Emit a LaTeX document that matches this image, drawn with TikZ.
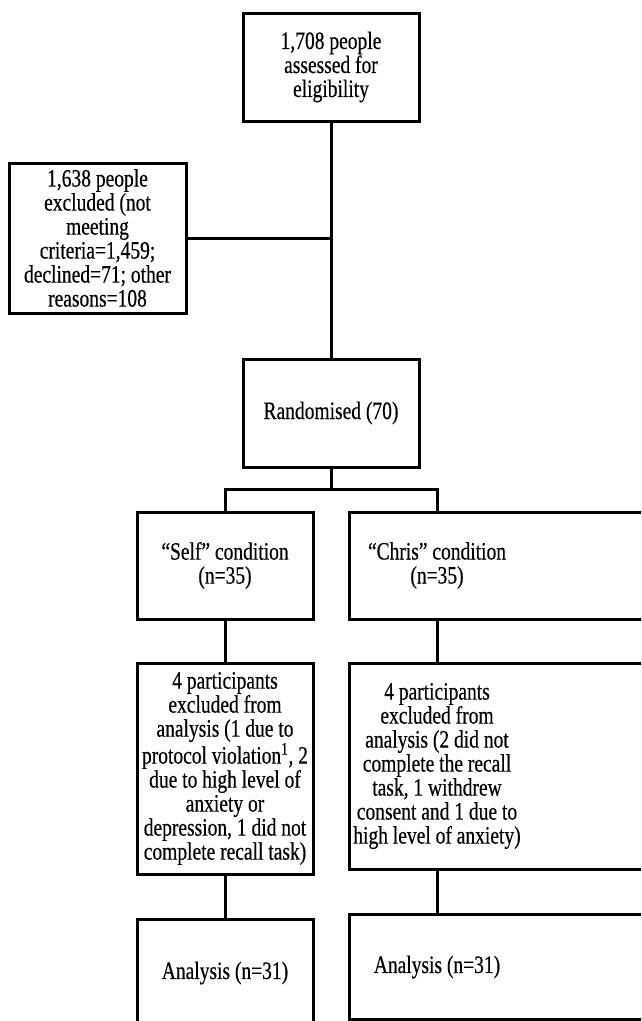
\documentclass[tikz,border=0pt]{standalone}
\usepackage{fontspec}
\setmainfont{Liberation Serif}[FakeStretch=0.78, FakeBold=0.4]
\begin{document}
\begin{tikzpicture}[x=1pt,y=-1pt,
  box/.style={draw=black, line width=3pt, inner sep=0pt, align=center},
  txt/.style={inner sep=0pt, align=center, font=\fontsize{25}{24}\selectfont},
  conn/.style={draw=black, line width=3pt}]
\useasboundingbox (0,0) rectangle (641,1021);
\fill[white] (0,0) rectangle (641,1021);
\clip (0,0) rectangle (641,1021);
% boxes
\node[box, minimum width=176pt, minimum height=108pt] (top) at (331,67) {};
\node[txt] (toptxt) at (top.center) {1,708 people\\assessed for\\eligibility};
\node[box, minimum width=177pt, minimum height=150pt] (excl) at (97.5,238) {};
\node[txt] (excltxt) at (excl.center) {1,638 people\\excluded (not\\meeting\\criteria=1,459;\\declined=71; other\\reasons=108};
\node[box, minimum width=176pt, minimum height=108pt] (rand) at (331,413) {};
\node[txt] (randtxt) at (rand.center) {Randomised (70)};
\node[box, minimum width=176pt, minimum height=107pt] (self) at (225,565.5) {};
\node[txt] (selftxt) at (self.center) {“Self” condition\\(n=35)};
\node[box, minimum width=351pt, minimum height=107pt] (chris) at (524.5,565.5) {};
\node[txt] (christxt) at (437,565.5) {“Chris” condition\\(n=35)};
\node[box, minimum width=176pt, minimum height=211pt] (selfex) at (225,768.5) {};
\node[txt] (selfextxt) at (selfex.center) {4 participants\\excluded from\\analysis (1 due to\\protocol violation\textsuperscript{1}, 2\\due to high level of\\anxiety or\\depression, 1 did not\\complete recall task)};
\node[box, minimum width=351pt, minimum height=206pt] (chrisex) at (524.5,766) {};
\node[txt] (chrisextxt) at (437,766) {4 participants\\excluded from\\analysis (2 did not\\complete the recall\\task, 1 withdrew\\consent and 1 due to\\high level of anxiety)};
\node[box, minimum width=176pt, minimum height=108pt] (selfan) at (225,973) {};
\node[txt] (selfantxt) at (selfan.center) {Analysis (n=31)};
\node[box, minimum width=351pt, minimum height=105pt] (chrisan) at (524.5,966.5) {};
\node[txt] (chrisantxt) at (437,967) {Analysis (n=31)};
% connectors
\coordinate (split) at (331,489);
\draw[conn] (top.south) -- (rand.north);
\draw[conn] (excl.east) -- (excl.east -| top.south);
\draw[conn] (rand.south) -- (split);
\draw[conn] (self.north) |- (split) -| (christxt |- chris.north);
\draw[conn] (self.south) -- (selfex.north);
\draw[conn] (selfex.south) -- (selfan.north);
\draw[conn] (christxt |- chris.south) -- (christxt |- chrisex.north);
\draw[conn] (christxt |- chrisex.south) -- (christxt |- chrisan.north);
\end{tikzpicture}
\end{document}
